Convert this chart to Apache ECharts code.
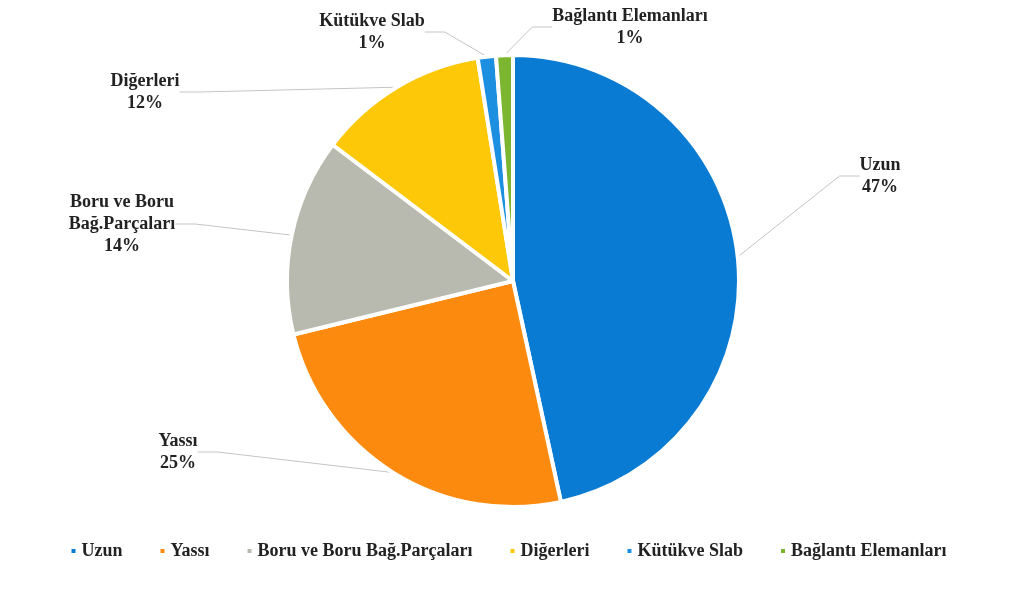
<!DOCTYPE html>
<html>
<head>
<meta charset="utf-8">
<script src="https://cdn.jsdelivr.net/npm/echarts@6/dist/echarts.min.js"></script>
<style>
  html, body { margin: 0; padding: 0; background: #fff; }
  #pie { width: 1016px; height: 592px; }
</style>
</head>
<body>
<div id="pie"></div>
<script>
const names = ['Uzun', 'Yassı', 'Boru ve Boru Bağ.Parçaları', 'Diğerleri', 'Kütükve Slab', 'Bağlantı Elemanları'];
const shares = [46.6, 24.6, 14.1, 12.2, 1.3, 1.2];
const colors = ['#0a7bd3', '#fb8a0e', '#b8bab0', '#fdc807', '#1c8fe0', '#7cb631'];

// label text lines and where each label sits
const labelNames = ['Uzun', 'Yassı', 'Boru ve Boru\nBağ.Parçaları', 'Diğerleri', 'Kütükve Slab', 'Bağlantı Elemanları'];
const labelPos = [[880, 176], [178, 452], [122, 224], [145, 92], [372, 32], [630, 27]];

const chart = echarts.init(document.getElementById('pie'));
const font = '"Liberation Serif", "Times New Roman", serif';

chart.setOption({
  animation: false,
  color: colors,
  legend: {
    bottom: 27,
    left: 'center',
    icon: 'rect',
    itemWidth: 6,
    itemHeight: 6,
    itemGap: 36,
    selectedMode: false,
    textStyle: {
      fontFamily: font,
      fontWeight: 'bold',
      fontSize: 18,
      color: '#222',
    },
    data: names,
  },
  series: [{
    type: 'pie',
    center: [513, 281],
    radius: 226,
    startAngle: 90,
    clockwise: true,
    itemStyle: {
      borderColor: '#fff',
      borderWidth: 4,
    },
    label: {
      fontFamily: font,
      fontWeight: 'bold',
      fontSize: 18,
      lineHeight: 22,
      color: '#222',
      align: 'center',
      formatter: (p) => labelNames[p.dataIndex] + '\n' + Math.round(p.percent) + '%',
    },
    labelLine: {
      length: 20,
      length2: 20,
      lineStyle: { color: '#c4c4c4', width: 1 },
    },
    labelLayout: (p) => ({
      x: labelPos[p.dataIndex][0],
      y: labelPos[p.dataIndex][1],
      align: 'center',
      verticalAlign: 'middle',
    }),
    emphasis: { disabled: true },
    data: names.map((n, i) => ({ name: n, value: shares[i] })),
  }],
});
window.addEventListener('resize', () => { chart.resize(); });
</script>
</body>
</html>
